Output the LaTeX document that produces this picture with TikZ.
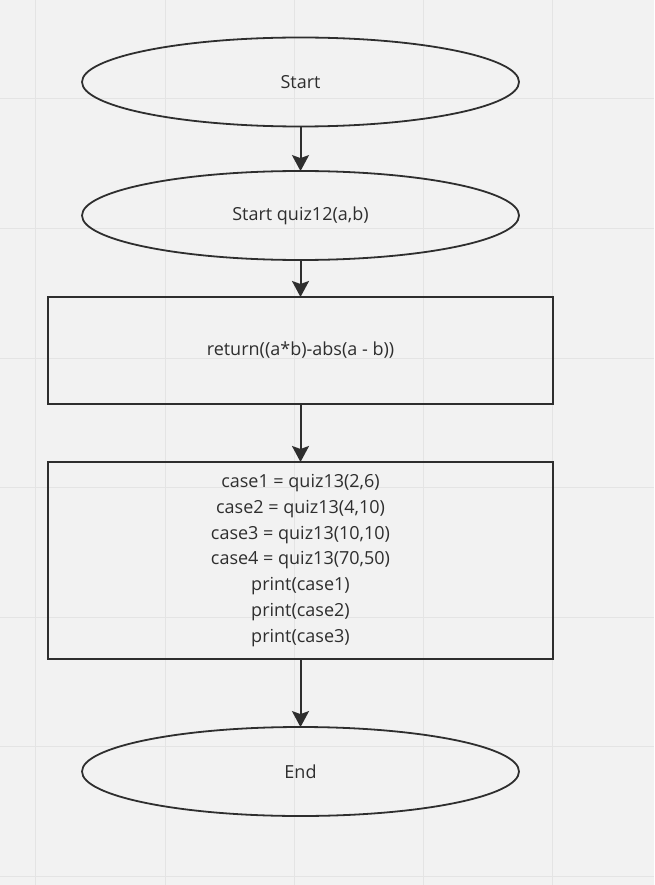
\documentclass[tikz,border=0pt]{standalone}
\usepackage{fontspec}
\setmainfont{Open Sans}
\usetikzlibrary{shapes.geometric,arrows.meta}
\definecolor{canvas}{HTML}{F2F2F2}
\definecolor{gridline}{HTML}{E4E4E4}
\definecolor{ink}{HTML}{2E2E2E}
\tikzset{
  terminal/.style={ellipse, draw=ink, line width=1.8pt, minimum width=437pt, minimum height=89pt, inner sep=0pt, text=ink, font=\fontsize{18}{25.8}\selectfont},
  process/.style={rectangle, draw=ink, line width=2pt, minimum width=505pt, inner sep=0pt, text=ink, align=center, font=\fontsize{18}{25.8}\selectfont},
  flow/.style={draw=ink, line width=2pt, -{Stealth[length=16pt,width=17pt,inset=3pt]}, shorten >=-1pt}
}
\begin{document}
\begin{tikzpicture}[x=1pt,y=-1pt]
  % canvas and board grid
  \fill[canvas] (0,0) rectangle (654,885);
  \useasboundingbox (0,0) rectangle (654,885);
  \foreach \gx in {35,165,294,423,552}
    \draw[gridline, line width=1pt] (\gx,0) -- (\gx,885);
  \foreach \gy in {99,229,358,487,617,746,876}
    \draw[gridline, line width=1pt] (0,\gy) -- (654,\gy);

  % flowchart steps
  \node[terminal] (start) at (300.5,82) {Start};
  \node[terminal] (quiz) at (300.5,215.5) {Start quiz12(a,b)};
  \node[process, minimum height=107pt] (ret) at (300.5,350.5) {return((a*b)-abs(a - b))};
  \node[process, minimum height=197pt] (cases) at (300.5,560.5) {case1 = quiz13(2,6)\\case2 = quiz13(4,10)\\case3 = quiz13(10,10)\\case4 = quiz13(70,50)\\print(case1)\\print(case2)\\print(case3)};
  \node[terminal] (end) at (300.5,771.5) {End};

  % connectors
  \draw[flow] (start) -- (quiz);
  \draw[flow] (quiz) -- (ret);
  \draw[flow] (ret) -- (cases);
  \draw[flow] (cases) -- (end);
\end{tikzpicture}
\end{document}
